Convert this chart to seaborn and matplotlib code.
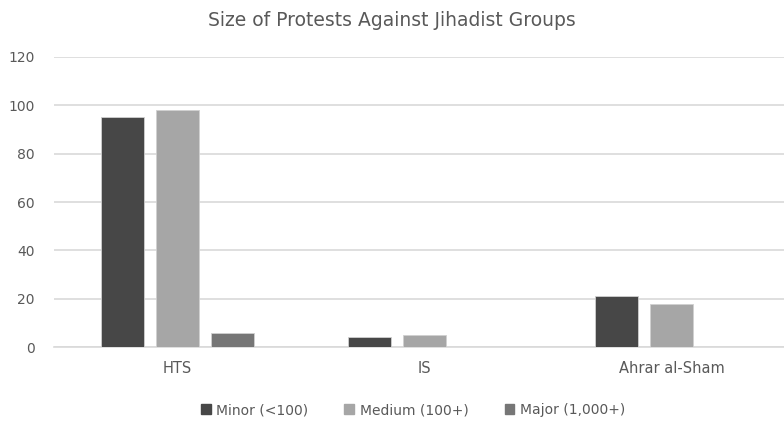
import matplotlib
matplotlib.use('Agg')
import matplotlib.pyplot as plt
import seaborn as sns
import pandas as pd

groups = ['HTS', 'IS', 'Ahrar al-Sham']
sizes = ['Minor (<100)', 'Medium (100+)', 'Major (1,000+)']
minor = [95, 4, 21]
medium = [98, 5, 18]
major = [6, 0, 0]
colors = ['#474747', '#a6a6a6', '#767676']

df = pd.DataFrame({
    'group': groups * 3,
    'size': [s for s in sizes for _ in groups],
    'count': minor + medium + major,
})

sns.set_style('white')
plt.rcParams['font.family'] = ['DejaVu Sans']

fig = plt.figure(figsize=(7.84, 4.23), dpi=100)
ax = fig.add_axes([54 / 784, 76 / 423, 730 / 784, 290 / 423])

sns.barplot(data=df, x='group', y='count', hue='size', palette=colors,
            width=0.668, gap=0.22, edgecolor='#d0d0d0', linewidth=0.6,
            legend=False, ax=ax, zorder=3)

ax.set_xlim(-0.5, -0.5 + 730 / 247)
ax.set_ylim(0, 120)
ax.set_yticks(range(0, 121, 20))
ax.yaxis.grid(True, color='#d9d9d9', linewidth=1.2, zorder=0)
ax.set_axisbelow(True)
for s in ['top', 'right', 'left']:
    ax.spines[s].set_visible(False)
ax.spines['bottom'].set_color('#d9d9d9')
ax.spines['bottom'].set_linewidth(1.2)
ax.tick_params(axis='y', length=0, labelsize=10, colors='#595959', pad=14)
ax.tick_params(axis='x', length=0, labelsize=10.5, colors='#595959', pad=10)
ax.set_xlabel('')
ax.set_ylabel('')

fig.text(0.5, 1 - 20 / 423, 'Size of Protests Against Jihadist Groups',
         ha='center', va='center', fontsize=13.5, color='#595959')

handles = [plt.Rectangle((0, 0), 1, 1, color=c) for c in colors]
fig.legend(handles, sizes, loc='center', bbox_to_anchor=(413 / 784, 1 - 410 / 423),
           ncol=3, frameon=False, fontsize=10, labelcolor='#595959',
           handlelength=0.7, handleheight=0.7, handletextpad=0.4, columnspacing=2.6)

fig.savefig('out.png', dpi=100)
